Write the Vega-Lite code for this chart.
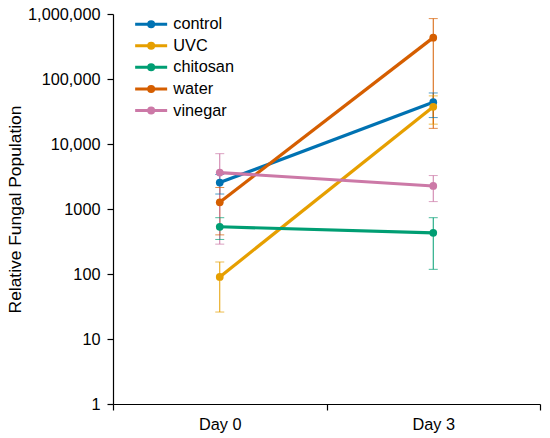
{
  "$schema": "https://vega.github.io/schema/vega-lite/v6.json",
  "autosize": "none",
  "width": 427,
  "height": 390,
  "padding": {"left": 113, "top": 14, "right": 10, "bottom": 34},
  "background": "white",
  "config": {
    "view": {"stroke": null},
    "font": "Liberation Sans",
    "axis": {"labelFont": "Liberation Sans", "labelFontSize": 16.3, "labelColor": "#000", "titleFont": "Liberation Sans", "titleFontSize": 17.4, "titleFontWeight": "normal", "titleColor": "#000", "domainColor": "#000", "tickColor": "#000", "grid": false, "domainWidth": 1.2, "tickWidth": 1.2}
  },
  "data": {"values": [
    {"series": "control", "day": "Day 0", "value": 2550, "lo": 1700, "hi": 3400},
    {"series": "control", "day": "Day 3", "value": 44000, "lo": 25500, "hi": 61000},
    {"series": "UVC", "day": "Day 0", "value": 90, "lo": 26, "hi": 153},
    {"series": "UVC", "day": "Day 3", "value": 37400, "lo": 20200, "hi": 55000},
    {"series": "chitosan", "day": "Day 0", "value": 533, "lo": 340, "hi": 735},
    {"series": "chitosan", "day": "Day 3", "value": 430, "lo": 118, "hi": 735},
    {"series": "water", "day": "Day 0", "value": 1270, "lo": 400, "hi": 2140},
    {"series": "water", "day": "Day 3", "value": 433000, "lo": 17400, "hi": 850000},
    {"series": "vinegar", "day": "Day 0", "value": 3630, "lo": 288, "hi": 7100},
    {"series": "vinegar", "day": "Day 3", "value": 2260, "lo": 1300, "hi": 3270}
  ]},
  "encoding": {
    "x": {"field": "day", "type": "nominal", "sort": null,
      "scale": {"type": "band", "domain": ["Day 0", "Day 3"], "paddingInner": 0, "paddingOuter": 0},
      "axis": {"title": null, "labelAngle": 0, "tickBand": "extent", "tickSize": 6, "labelPadding": 6}},
    "color": {"field": "series", "type": "nominal",
      "scale": {"domain": ["control", "UVC", "chitosan", "water", "vinegar"], "range": ["#0072B2", "#E69F00", "#009E73", "#D55E00", "#CC79A7"]},
      "legend": {"title": null, "orient": "none", "legendX": 30, "legendY": 2, "padding": 0,
        "symbolType": "M-4,0L4,0M-0.625,0A0.625,0.625,0,1,1,0.625,0A0.625,0.625,0,1,1,-0.625,0Z",
        "symbolSize": 64, "symbolStrokeWidth": 3, "labelFontSize": 16.3, "labelFont": "Liberation Sans", "labelColor": "#000",
        "labelOffset": 14, "rowPadding": 3.6,
        "encode": {"symbols": {"update": {"fill": {"scale": "color", "field": "value"}, "stroke": {"scale": "color", "field": "value"}, "opacity": {"value": 1}}}}}}
  },
  "layer": [
    {"mark": {"type": "rule", "strokeWidth": 1},
     "encoding": {"y": {"field": "lo", "type": "quantitative"}, "y2": {"field": "hi"}}},
    {"mark": {"type": "tick", "size": 9, "thickness": 1},
     "encoding": {"y": {"field": "lo", "type": "quantitative"}}},
    {"mark": {"type": "tick", "size": 9, "thickness": 1},
     "encoding": {"y": {"field": "hi", "type": "quantitative"}}},
    {"mark": {"type": "line", "strokeWidth": 3.2},
     "encoding": {"y": {"field": "value", "type": "quantitative",
        "scale": {"type": "log", "domain": [1, 1000000], "nice": false},
        "axis": {"title": "Relative Fungal Population", "values": [1, 10, 100, 1000, 10000, 100000, 1000000],
          "labelExpr": "datum.value >= 10000 ? format(datum.value, ',') : format(datum.value, 'd')",
          "tickSize": 6, "labelPadding": 7, "titlePadding": 3}}}},
    {"mark": {"type": "point", "filled": true, "size": 60, "opacity": 1},
     "encoding": {"y": {"field": "value", "type": "quantitative"}}}
  ]
}
